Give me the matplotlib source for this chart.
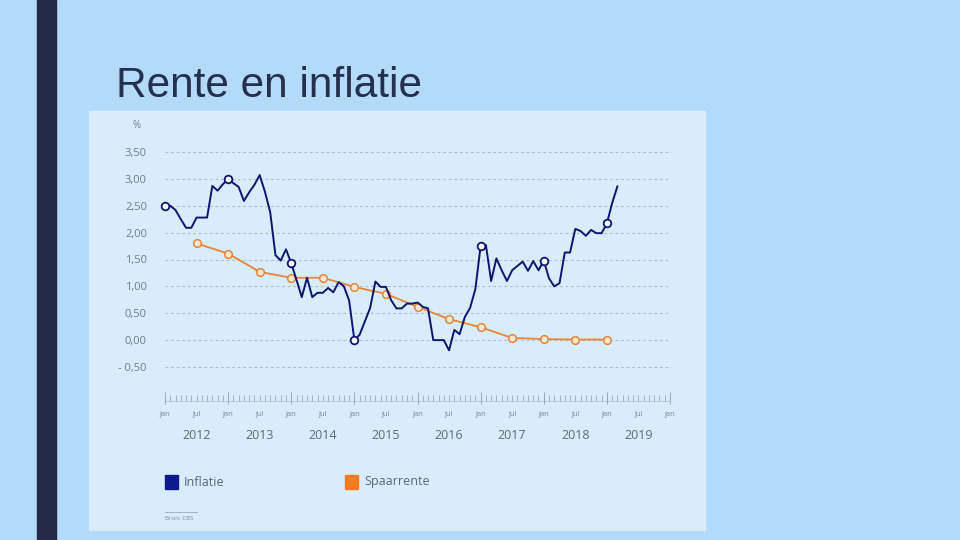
import numpy as np
import matplotlib
matplotlib.use('Agg')
import matplotlib.pyplot as plt
from matplotlib.patches import Rectangle

# inflatie, maandcijfers vanaf jan 2012 (CBS)
inflatie_2012 = [2.50, 2.50, 2.42, 2.25, 2.09, 2.09, 2.28, 2.28, 2.28, 2.87, 2.78, 2.90]
inflatie_2013 = [3.00, 2.92, 2.85, 2.59, 2.75, 2.89, 3.07, 2.76, 2.38, 1.58, 1.48, 1.69]
inflatie_2014 = [1.43, 1.12, 0.80, 1.16, 0.80, 0.88, 0.88, 0.97, 0.89, 1.08, 1.00, 0.74]
inflatie_2015 = [0.00, 0.10, 0.35, 0.60, 1.09, 0.99, 0.99, 0.74, 0.59, 0.59, 0.68, 0.68]
inflatie_2016 = [0.70, 0.62, 0.59, 0.00, 0.00, 0.00, -0.19, 0.19, 0.11, 0.43, 0.60, 0.95]
inflatie_2017 = [1.75, 1.77, 1.10, 1.52, 1.30, 1.10, 1.30, 1.38, 1.46, 1.29, 1.47, 1.30]
inflatie_2018 = [1.48, 1.15, 1.00, 1.06, 1.63, 1.63, 2.07, 2.03, 1.94, 2.05, 1.99, 1.99]
inflatie_2019 = [2.17, 2.55, 2.86]
inflatie = (inflatie_2012 + inflatie_2013 + inflatie_2014 + inflatie_2015 +
            inflatie_2016 + inflatie_2017 + inflatie_2018 + inflatie_2019)
inflatie_markers = [0, 12, 24, 36, 60, 72, 84]

# spaarrente, halfjaarlijks vanaf jul 2012
spaar_maand = [6, 12, 18, 24, 30, 36, 42, 48, 54, 60, 66, 72, 78, 84]
spaarrente = [1.80, 1.61, 1.27, 1.16, 1.16, 0.99, 0.86, 0.62, 0.39, 0.24, 0.04, 0.02, 0.01, 0.01]

jaren = [2012, 2013, 2014, 2015, 2016, 2017, 2018, 2019]
yticks = [3.5, 3.0, 2.5, 2.0, 1.5, 1.0, 0.5, 0.0, -0.5]
ylabels = ['3,50', '3,00', '2,50', '2,00', '1,50', '1,00', '0,50', '0,00', '- 0,50']

W, H = 960, 540
slide_bg = '#b3dbf9'
panel_bg = '#d8edfb'
navy = '#0b1670'
orange = '#e8843c'
grijs = '#6f7d8b'

fig = plt.figure(figsize=(9.6, 5.4), dpi=100, facecolor=slide_bg)
fig.patches.append(Rectangle((37 / W, 0), 19 / W, 1, transform=fig.transFigure,
                             color='#232a48', zorder=-2))
fig.patches.append(Rectangle((89 / W, 10 / H), 616 / W, 419 / H, transform=fig.transFigure,
                             color=panel_bg, zorder=-2))
fig.text(116 / W, 1 - 96.7 / H, 'Rente en inflatie', fontsize=30.5, family='Liberation Sans',
         color='#23304f', va='baseline', ha='left')

ax = fig.add_axes([165 / W, 1 - 367 / H, 505 / W, 215 / H])
ax.set_facecolor('none')
ax.set_xlim(2012, 2020)
ax.set_ylim(-0.5, 3.5)
for s in ax.spines.values():
    s.set_visible(False)

for y in yticks:
    ax.axhline(y, color='#b0bfcc', lw=0.8, ls=(0, (2.5, 2.5)), zorder=1, clip_on=False)
ax.set_yticks(yticks)
ax.set_yticklabels(ylabels, family='Open Sans', fontsize=8, color=grijs)
ax.tick_params(axis='y', length=0, pad=13)
ax.set_xticks([])

x_infl = 2012 + np.arange(len(inflatie)) / 12
ax.plot(x_infl, inflatie, color=navy, lw=1.4, zorder=3, clip_on=False,
        marker='o', markevery=inflatie_markers, markersize=5.5,
        markerfacecolor='white', markeredgecolor=navy, markeredgewidth=1.3)
x_spaar = 2012 + np.array(spaar_maand) / 12
ax.plot(x_spaar, spaarrente, color=orange, lw=1.3, zorder=2, clip_on=False,
        marker='o', markersize=5.5, markerfacecolor='#fde9cf',
        markeredgecolor=orange, markeredgewidth=1.1)

fig.text(137 / W, 1 - 125 / H, '%', family='Open Sans', fontsize=7, color=grijs,
         ha='center', va='center')

# x-as met maandstreepjes
tr = ax.get_xaxis_transform()
def ay(py):
    return (367 - py) / 215
maanden = 2012 + np.arange(97) / 12
ax.plot([2012, 2020], [ay(400.5), ay(400.5)], transform=tr, color='#b5c3cf', lw=0.6, clip_on=False)
ax.vlines(maanden, ay(395), ay(400.5), transform=tr, color='#9aa9b7', lw=0.6, clip_on=False)
ax.vlines(2012 + np.arange(9), ay(392), ay(404), transform=tr, color='#9aa9b7', lw=0.7, clip_on=False)
for i in range(17):
    ax.text(2012 + i / 2, ay(415), 'jan' if i % 2 == 0 else 'jul', transform=tr,
            ha='center', va='center', family='Open Sans', fontsize=5.5, color='#7a8796')
for j in jaren:
    ax.text(j + 0.5, ay(435.5), str(j), transform=tr, ha='center', va='center',
            family='Open Sans', fontsize=9, color='#5d6b7a')

# legenda
fig.patches.append(Rectangle((165 / W, 1 - 489 / H), 13 / W, 14 / H, transform=fig.transFigure,
                             color='#0c1a8a'))
fig.text(184 / W, 1 - 482 / H, 'Inflatie', family='Open Sans', fontsize=9, color='#5b6878',
         va='center', ha='left')
fig.patches.append(Rectangle((345 / W, 1 - 489 / H), 13 / W, 14 / H, transform=fig.transFigure,
                             color='#f47a20'))
fig.text(364 / W, 1 - 482 / H, 'Spaarrente', family='Open Sans', fontsize=9, color='#5b6878',
         va='center', ha='left')

fig.add_artist(plt.Line2D([165 / W, 197 / W], [1 - 512 / H, 1 - 512 / H],
                          transform=fig.transFigure, color='#9aa9b7', lw=0.6))
fig.text(165 / W, 1 - 519 / H, 'Bron: CBS', family='Open Sans', fontsize=4.5, color='#7a8796',
         va='center', ha='left')

fig.savefig('out.png', dpi=100, facecolor=slide_bg)
